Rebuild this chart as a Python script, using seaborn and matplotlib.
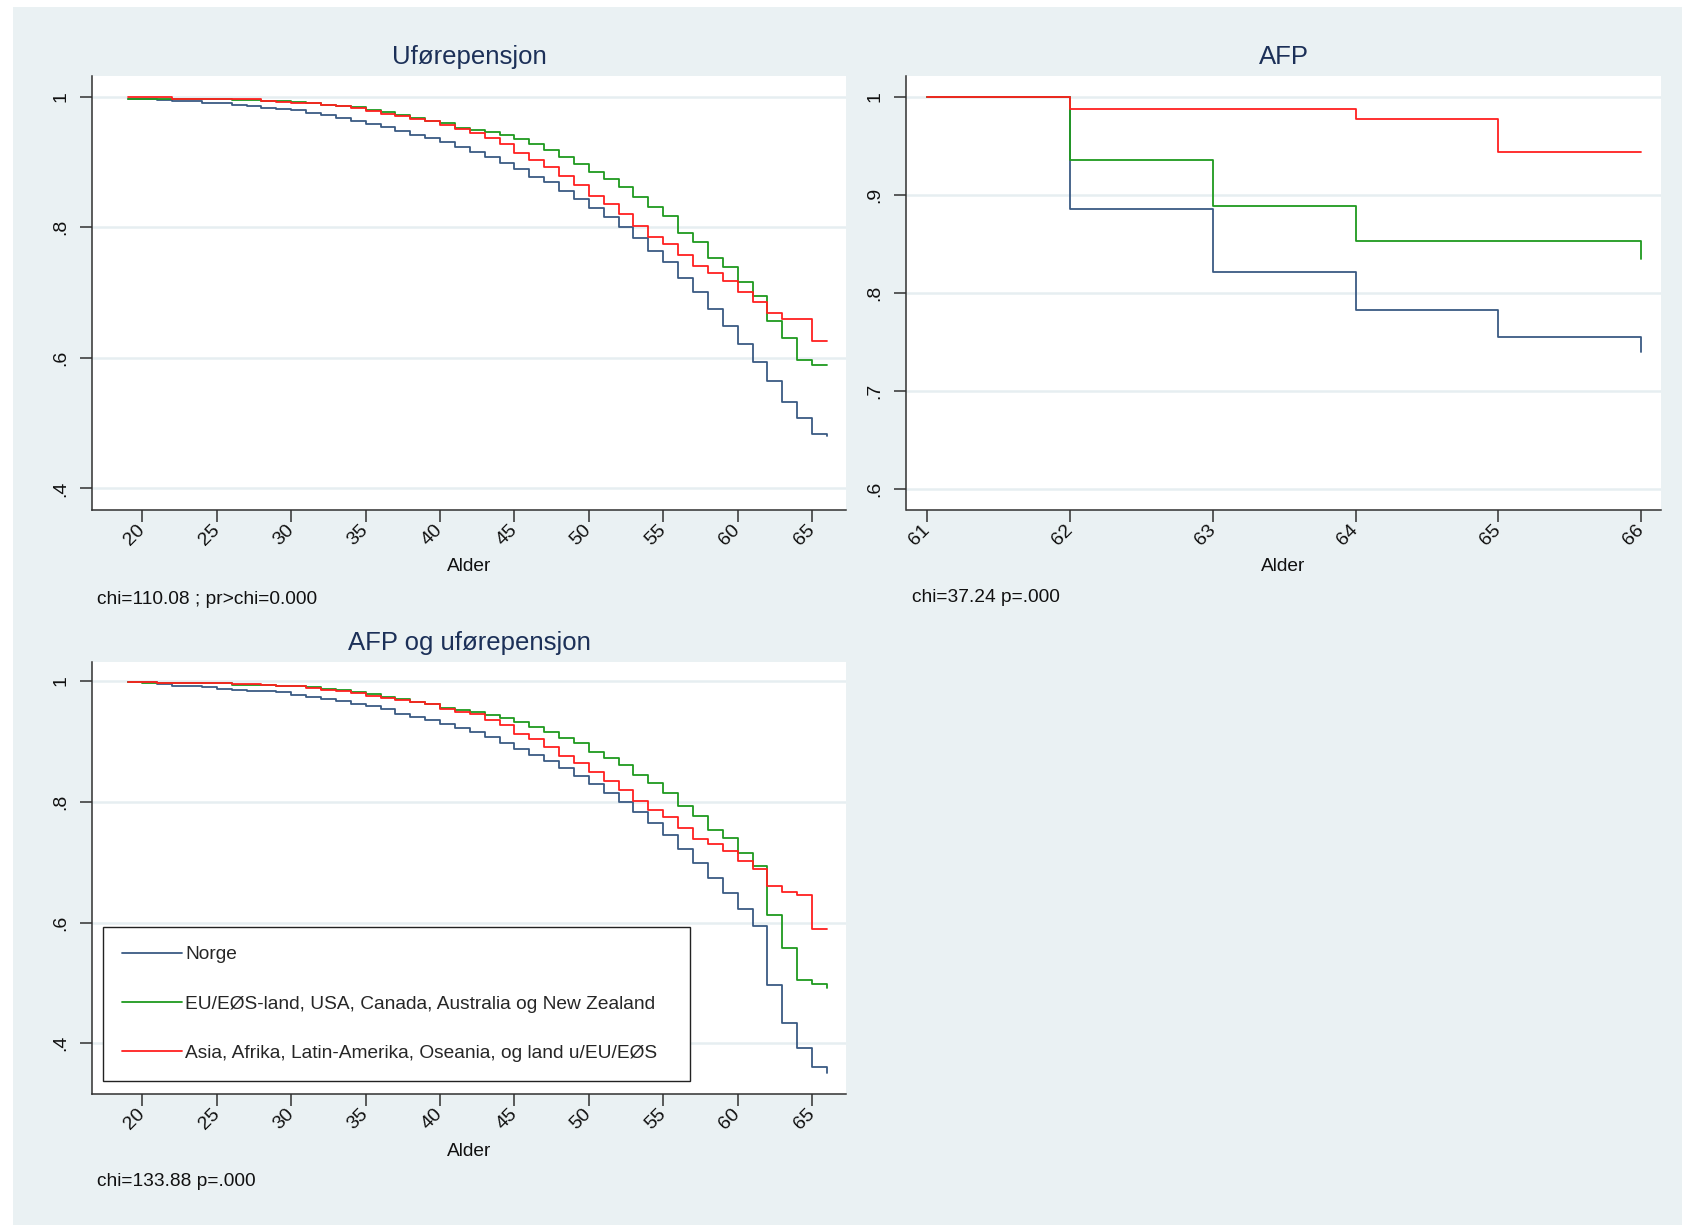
import pandas as pd
import seaborn as sns
import matplotlib.pyplot as plt
from matplotlib.patches import Rectangle

# Kaplan-Meier: andel som ikke har gått over, etter alder og landbakgrunn
grupper = ["Norge",
           "EU/EØS-land, USA, Canada, Australia og New Zealand",
           "Asia, Afrika, Latin-Amerika, Oseania, og land u/EU/EØS"]
farger = ["#3a5a84", "#1f9a1f", "#ff2020"]

alder = list(range(19, 67))
alder_afp = [61, 62, 63, 64, 65, 66]

ufore_norge = [0.997, 0.996, 0.995, 0.994, 0.993, 0.991, 0.990, 0.988, 0.986, 0.983,
               0.981, 0.979, 0.975, 0.972, 0.968, 0.963, 0.958, 0.953, 0.947, 0.942,
               0.936, 0.930, 0.923, 0.916, 0.907, 0.898, 0.889, 0.877, 0.869, 0.856,
               0.844, 0.830, 0.816, 0.801, 0.783, 0.763, 0.746, 0.722, 0.701, 0.674,
               0.648, 0.621, 0.593, 0.564, 0.533, 0.507, 0.484, 0.480]
ufore_eu = [0.997, 0.997, 0.997, 0.996, 0.996, 0.996, 0.996, 0.995, 0.995, 0.994,
            0.993, 0.992, 0.991, 0.988, 0.986, 0.984, 0.980, 0.976, 0.972, 0.968,
            0.963, 0.959, 0.952, 0.949, 0.946, 0.941, 0.935, 0.928, 0.918, 0.908,
            0.897, 0.885, 0.874, 0.861, 0.846, 0.831, 0.817, 0.791, 0.777, 0.753,
            0.739, 0.716, 0.695, 0.657, 0.630, 0.596, 0.589, 0.589]
ufore_asia = [0.9995, 0.9995, 0.9995, 0.997, 0.997, 0.997, 0.997, 0.997, 0.996, 0.994,
              0.992, 0.991, 0.990, 0.988, 0.985, 0.982, 0.978, 0.974, 0.970, 0.966,
              0.963, 0.956, 0.950, 0.945, 0.937, 0.928, 0.914, 0.903, 0.892, 0.878,
              0.865, 0.848, 0.836, 0.821, 0.802, 0.785, 0.775, 0.758, 0.740, 0.730,
              0.718, 0.701, 0.686, 0.669, 0.660, 0.660, 0.625, 0.625]

afp_norge = [1.0, 0.886, 0.821, 0.783, 0.755, 0.740]
afp_eu = [1.0, 0.935, 0.889, 0.853, 0.853, 0.835]
afp_asia = [1.0, 0.987, 0.987, 0.977, 0.944, 0.944]

begge_norge = [0.998, 0.998, 0.995, 0.992, 0.992, 0.990, 0.987, 0.985, 0.983, 0.983,
               0.981, 0.977, 0.974, 0.970, 0.967, 0.962, 0.958, 0.953, 0.946, 0.941,
               0.935, 0.929, 0.922, 0.915, 0.907, 0.897, 0.888, 0.877, 0.867, 0.856,
               0.843, 0.829, 0.815, 0.799, 0.783, 0.765, 0.745, 0.721, 0.698, 0.674,
               0.649, 0.622, 0.595, 0.497, 0.433, 0.392, 0.360, 0.350]
begge_eu = [0.998, 0.997, 0.997, 0.997, 0.997, 0.996, 0.996, 0.994, 0.994, 0.994,
            0.992, 0.991, 0.990, 0.986, 0.985, 0.982, 0.978, 0.974, 0.970, 0.966,
            0.962, 0.956, 0.952, 0.948, 0.943, 0.938, 0.932, 0.924, 0.915, 0.906,
            0.897, 0.883, 0.872, 0.861, 0.845, 0.831, 0.815, 0.793, 0.776, 0.754,
            0.740, 0.715, 0.694, 0.613, 0.558, 0.504, 0.499, 0.491]
begge_asia = [0.999, 0.999, 0.997, 0.997, 0.997, 0.997, 0.997, 0.995, 0.995, 0.993,
              0.991, 0.991, 0.988, 0.985, 0.983, 0.980, 0.976, 0.972, 0.969, 0.966,
              0.962, 0.954, 0.949, 0.945, 0.935, 0.927, 0.913, 0.904, 0.891, 0.876,
              0.865, 0.849, 0.835, 0.819, 0.801, 0.786, 0.774, 0.757, 0.739, 0.730,
              0.718, 0.702, 0.688, 0.661, 0.651, 0.645, 0.590, 0.590]

titler = ["Uførepensjon", "AFP", "AFP og uførepensjon"]
noter = ["chi=110.08 ; pr>chi=0.000", "chi=37.24 p=.000", "chi=133.88 p=.000"]
xticks_alder = [20, 25, 30, 35, 40, 45, 50, 55, 60, 65]
yticks_46 = [0.4, 0.6, 0.8, 1.0]
ylabels_46 = [".4", ".6", ".8", "1"]
yticks_afp = [0.6, 0.7, 0.8, 0.9, 1.0]
ylabels_afp = [".6", ".7", ".8", ".9", "1"]


def lang_tabell(x, serier):
    return pd.concat([pd.DataFrame({"alder": x, "andel": v, "gruppe": g})
                      for g, v in zip(grupper, serier)], ignore_index=True)


sns.set_style("white")
plt.rcParams['font.family'] = ['Liberation Sans', 'DejaVu Sans']

W, H = 1683, 1225
BG = "#eaf1f3"
fig = plt.figure(figsize=(W / 100, H / 100), dpi=100, facecolor="white")
fig.patches.append(Rectangle((13 / W, 0), 1 - 13 / W, 1 - 7 / H, transform=fig.transFigure,
                             facecolor=BG, edgecolor="none", zorder=-10))


def px_axes(left, top, right, bottom):
    return fig.add_axes([left / W, 1 - bottom / H, (right - left) / W, (bottom - top) / H])


paneler = [
    dict(ax=px_axes(92.4, 76, 846, 510), df=lang_tabell(alder, [ufore_norge, ufore_eu, ufore_asia]),
         xlim=(16.64, 67.28), ylim=(0.3668, 1.0317), xt=xticks_alder, yt=yticks_46, yl=ylabels_46,
         xlab_y=-0.111, note=(96.7, 599)),
    dict(ax=px_axes(906.5, 76, 1660.7, 510), df=lang_tabell(alder_afp, [afp_norge, afp_eu, afp_asia]),
         xlim=(60.854, 66.136), ylim=(0.5786, 1.0211), xt=alder_afp, yt=yticks_afp, yl=ylabels_afp,
         xlab_y=-0.111, note=(911.7, 597)),
    dict(ax=px_axes(92.4, 661.7, 846, 1094.3), df=lang_tabell(alder, [begge_norge, begge_eu, begge_asia]),
         xlim=(16.64, 67.28), ylim=(0.3155, 1.032), xt=xticks_alder, yt=yticks_46, yl=ylabels_46,
         xlab_y=-0.113, note=(97.3, 1181.7)),
]

pal = dict(zip(grupper, farger))
for i, p in enumerate(paneler):
    ax = p["ax"]
    ax.set_facecolor("white")
    sns.lineplot(data=p["df"], x="alder", y="andel", hue="gruppe", hue_order=grupper,
                 palette=pal, drawstyle="steps-post", estimator=None, sort=False,
                 lw=1.3, ax=ax, legend=(i == 2))
    ax.set_xlim(*p["xlim"])
    ax.set_ylim(*p["ylim"])
    ax.set_xticks(p["xt"])
    ax.set_xticklabels([str(t) for t in p["xt"]])
    ax.set_yticks(p["yt"])
    ax.set_yticklabels(p["yl"])
    ax.grid(axis="y", color="#e6eef1", lw=1.8)
    ax.grid(axis="x", visible=False)
    ax.set_axisbelow(True)
    for s in ["top", "right"]:
        ax.spines[s].set_visible(False)
    for s in ["left", "bottom"]:
        ax.spines[s].set_color("#303030")
        ax.spines[s].set_linewidth(1.1)
    ax.tick_params(direction="out", length=8.5, width=1.1, color="#303030",
                   labelsize=14, labelcolor="#111111", left=True, bottom=True)
    ax.tick_params(axis="x", pad=4)
    ax.tick_params(axis="y", pad=8)
    for lab in ax.get_xticklabels():
        lab.set_rotation(45)
        lab.set_ha("right")
        lab.set_va("center")
        lab.set_rotation_mode("anchor")
    for lab in ax.get_yticklabels():
        lab.set_rotation(90)
        lab.set_va("center")
        lab.set_ha("right")
    ax.set_ylabel("")
    ax.set_xlabel("Alder", fontsize=13.8, color="#111111")
    ax.xaxis.set_label_coords(0.5, p["xlab_y"])
    ax.set_title(titler[i], fontsize=18.5, color="#1c3058", pad=8.5)
    fig.text(p["note"][0] / W, 1 - p["note"][1] / H, noter[i], fontsize=13.8,
             color="#111111", ha="left", va="center")

ax3 = paneler[2]["ax"]
handles, labels = ax3.get_legend_handles_labels()
leg = ax3.legend(handles, labels, loc="upper left", bbox_to_anchor=(0.0141, 0.0284, 0.7784, 0.359),
                 mode="expand", borderaxespad=0, fontsize=13.8, handlelength=3.1,
                 handletextpad=0.2, labelspacing=1.66, borderpad=1.0, fancybox=False,
                 framealpha=1, edgecolor="#222222")
leg.get_frame().set_linewidth(1.0)
for h in leg.get_lines():
    h.set_linewidth(1.3)

fig.savefig("out.png", dpi=100, facecolor=fig.get_facecolor())
